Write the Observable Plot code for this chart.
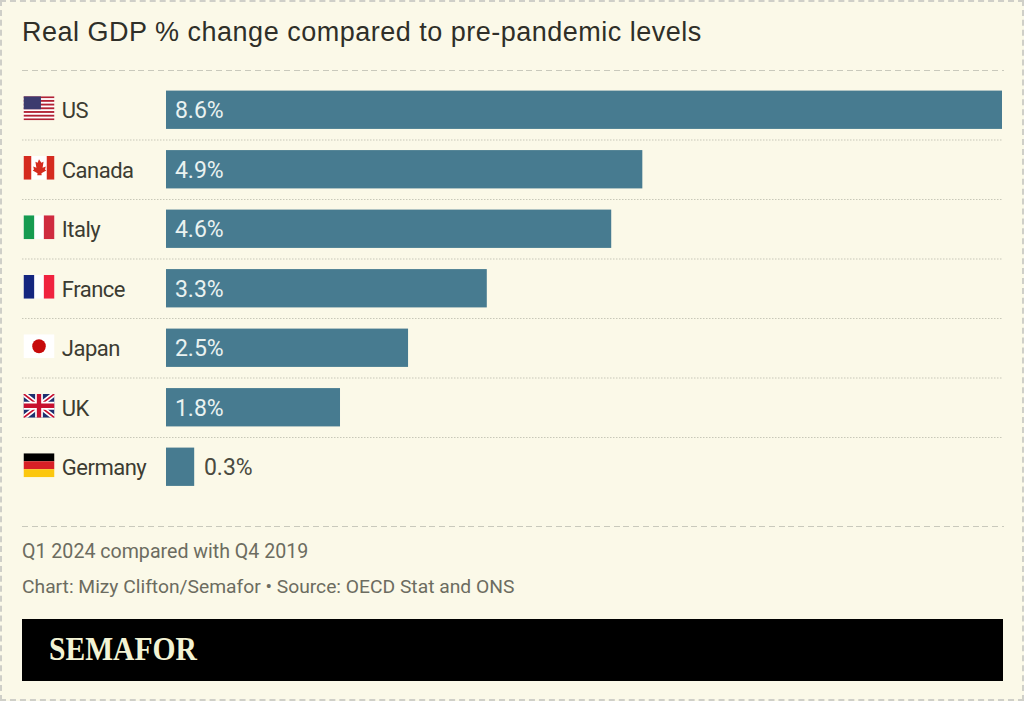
<!DOCTYPE html>
<html><head><meta charset="utf-8">
<script src="https://cdn.jsdelivr.net/npm/d3@7"></script>
<script src="https://cdn.jsdelivr.net/npm/@observablehq/plot@0.6"></script>
<style>
html,body{margin:0;padding:0;width:1024px;height:701px;overflow:hidden;background:#fbf9e8}
#frame{position:absolute;left:0;top:0;width:1020px;height:697px;border:2px dashed #cfcfc8}
.abs{position:absolute;white-space:nowrap}
#title{left:22px;top:17px;font:27px "Liberation Sans",sans-serif;color:#2f2f28;letter-spacing:.5px}
.dash{left:22px;width:982px;height:1px;background:repeating-linear-gradient(90deg,#c9c9bc 0 6px,transparent 6px 9.7px)}
.note{left:22px;color:#6c6c60;font-family:Roboto,sans-serif}
#logo{left:22px;top:618.5px;width:981px;height:62px;background:#000}
#logo span{position:absolute;left:27px;top:11px;font:bold 34px "Liberation Serif",serif;color:#f3f3d4;transform:scaleX(.87);transform-origin:left center}
#chart{position:absolute;left:0;top:80.25px}
.country-label{letter-spacing:-.5px}
</style></head><body>
<div id="frame"></div>
<div class="abs" id="title">Real GDP % change compared to pre-pandemic levels</div>
<div class="abs dash" style="top:70px"></div>
<div id="chart"></div>
<div class="abs dash" style="top:525.5px"></div>
<div class="abs note" style="top:539.5px;font-size:19.6px">Q1 2024 compared with Q4 2019</div>
<div class="abs note" style="top:575px;font-size:19.25px">Chart: Mizy Clifton/Semafor • Source: OECD Stat and ONS</div>
<div class="abs" id="logo"><span>SEMAFOR</span></div>
<script>
const countries = ["US","Canada","Italy","France","Japan","UK","Germany"];
const values = [8.6,4.9,4.58,3.3,2.49,1.79,0.29];
const labels = ["8.6%","4.9%","4.6%","3.3%","2.5%","1.8%","0.3%"];
const flagSvgs = {
US:`<rect width="32" height="24" fill="#fff"/>${[0,1,2,3,4,5,6].map(i=>`<rect y="${i*3.7}" width="32" height="1.85" fill="#b22234"/>`).join("")}<rect width="18" height="13" fill="#3c3b6e"/>`,
Canada:`<rect width="32" height="24" fill="#fff"/><rect width="8" height="24" fill="#d52b1e"/><rect x="24" width="8" height="24" fill="#d52b1e"/><path d="M16 3.5l2.4 3.5 2.3-1-1 6 3.3-1.2-.8 3 1.3 1-5 2.7.3 2h-4.6l.3-2-5-2.7 1.3-1-.8-3 3.3 1.2-1-6 2.3 1z" fill="#d52b1e"/>`,
Italy:`<rect width="32" height="24" fill="#fff"/><rect width="11" height="24" fill="#169b50"/><rect x="21" width="11" height="24" fill="#cf2b3f"/>`,
France:`<rect width="32" height="24" fill="#fff"/><rect width="11" height="24" fill="#14267f"/><rect x="21" width="11" height="24" fill="#f0233f"/>`,
Japan:`<rect width="32" height="24" fill="#fff"/><circle cx="16" cy="12" r="7" fill="#c70a0a"/>`,
UK:`<rect width="32" height="24" fill="#1d2f6f"/><path d="M0 0L32 24M32 0L0 24" stroke="#fff" stroke-width="5"/><path d="M0 0L32 24M32 0L0 24" stroke="#c8102e" stroke-width="1.6"/><path d="M16 0V24M0 12H32" stroke="#fff" stroke-width="8"/><path d="M16 0V24M0 12H32" stroke="#c8102e" stroke-width="4.5"/>`,
Germany:`<rect width="32" height="8" fill="#000"/><rect y="8" width="32" height="8" fill="#d81f26"/><rect y="16" width="32" height="8" fill="#fbc70f"/>`
};
const flagUrl = c => "data:image/svg+xml," + encodeURIComponent(`<svg xmlns="http://www.w3.org/2000/svg" viewBox="0 0 32 24" preserveAspectRatio="none" width="32" height="24">${flagSvgs[c]}</svg>`);
const rows = countries.map((c,i)=>({country:c,value:values[i],label:labels[i]}));
const font = "Roboto, sans-serif";
const chart = Plot.plot({
  width:1024,height:417,
  marginTop:0,marginBottom:0.5,marginLeft:22,marginRight:22,
  style:{background:"transparent",overflow:"visible"},
  x:{domain:[0,8.6],range:[166,1002],axis:null},
  y:{domain:countries,paddingInner:0.356,paddingOuter:0.178,round:false,axis:null},
  marks:[
    Plot.ruleY(countries.slice(0,-1),{y:d=>d,dy:29.75,stroke:"#c8c8b8",strokeDasharray:"1.5 1.5",strokeWidth:1.2}),
    Plot.barX(rows,{x:"value",y:"country",fill:"#477b90"}),
    Plot.image(rows,{src:d=>flagUrl(d.country),y:"country",frameAnchor:"left",dx:16.5,dy:-2,width:31,height:24}),
    Plot.text(rows,{text:"country",y:"country",frameAnchor:"left",dx:39.3,dy:0.8,fontSize:22,fontFamily:font,fill:"#3c3c32",textAnchor:"start",className:"country-label"}),
    Plot.text(rows.filter(d=>d.value>=1),{text:"label",x:()=>0,y:"country",dx:8.4,dy:0.8,fontSize:23,fontFamily:font,fill:"#eaf2f0",textAnchor:"start"}),
    Plot.text(rows.filter(d=>d.value<1),{text:"label",x:"value",y:"country",dx:9.2,dy:0.8,fontSize:23,fontFamily:font,fill:"#4a4a40",textAnchor:"start"})
  ]
});
document.getElementById("chart").appendChild(chart);
</script>
</body></html>
